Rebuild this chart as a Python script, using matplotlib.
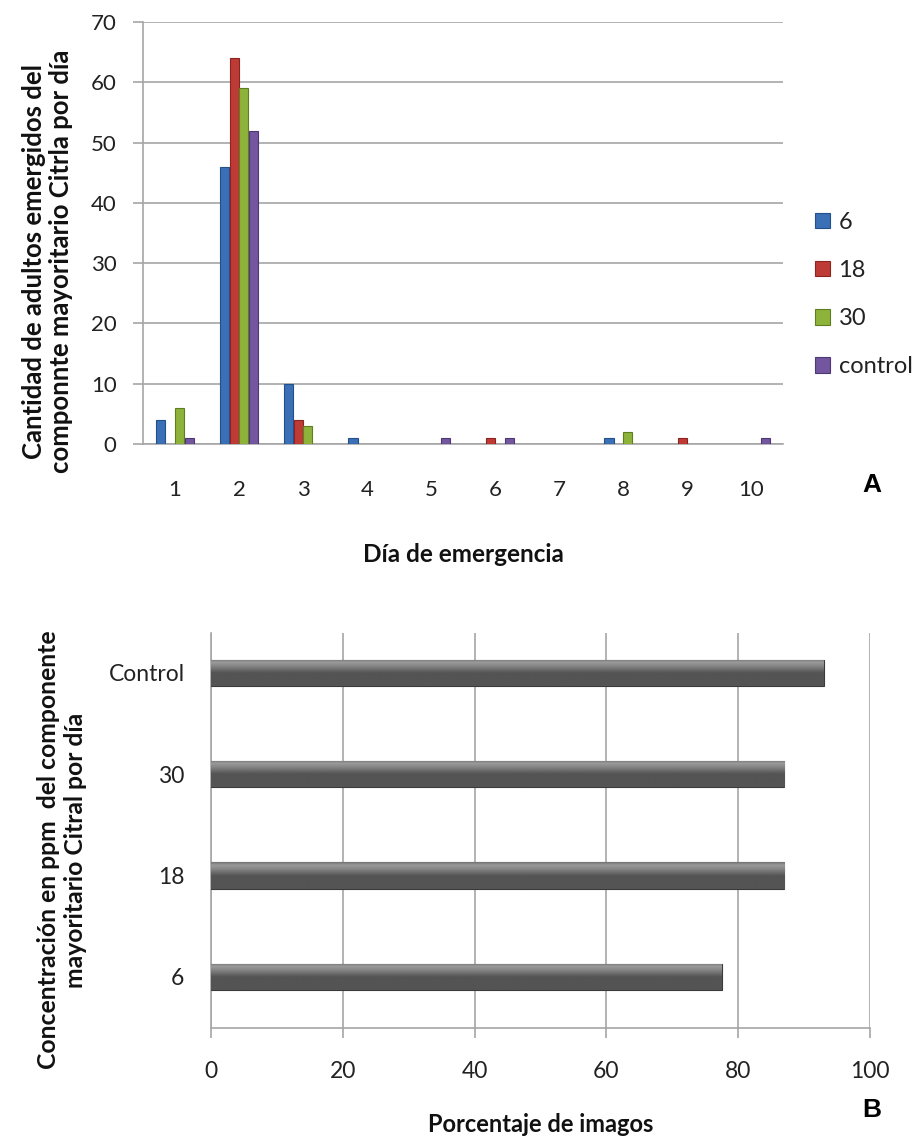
import matplotlib
matplotlib.use("Agg")
import matplotlib.pyplot as plt
import numpy as np

# ---- Data: chart A ----
days = [1, 2, 3, 4, 5, 6, 7, 8, 9, 10]
series_names = ["6", "18", "30", "control"]
vals_6 = [4, 46, 10, 1, 0, 0, 0, 1, 0, 0]
vals_18 = [0, 64, 4, 0, 0, 1, 0, 0, 1, 0]
vals_30 = [6, 59, 3, 0, 0, 0, 0, 2, 0, 0]
vals_control = [1, 52, 0, 0, 1, 1, 0, 0, 0, 1]
series_colors = ["#3B6FB6", "#BE3A35", "#8DB33A", "#7455A0"]
edge_colors = ["#24508A", "#8A2420", "#5F7D22", "#4F3973"]

# ---- Data: chart B ----
conc_labels = ["6", "18", "30", "Control"]
pct_imagos = [77.5, 87, 87, 93]

plt.rcParams['font.family'] = ['Lato', 'DejaVu Sans']

fig = plt.figure(figsize=(9.17, 11.37), dpi=100)

# ---------- Chart A ----------
axA = fig.add_axes([0.156, 0.6095, 0.698, 0.3711])
x = np.arange(len(days))
w = 0.145
step = 0.148
all_series = [vals_6, vals_18, vals_30, vals_control]
for i, (name, vals) in enumerate(zip(series_names, all_series)):
    vals = np.array(vals, dtype=float)
    mask = vals > 0
    off = (i - 1.5) * step
    axA.bar(x[mask] + off, vals[mask], width=w, color=series_colors[i],
            edgecolor=edge_colors[i], linewidth=0.8, label=name, zorder=3)
axA.set_xlim(-0.5, len(days) - 0.5)
axA.set_ylim(0, 70)
axA.set_yticks(range(0, 71, 10))
axA.set_xticks(x)
axA.set_xticklabels([str(d) for d in days])
axA.yaxis.grid(True, color="#A6A6A6", linewidth=1.2, zorder=0)
axA.set_axisbelow(True)
for s in ["top", "right"]:
    axA.spines[s].set_visible(False)
for s in ["left", "bottom"]:
    axA.spines[s].set_color("#A6A6A6")
    axA.spines[s].set_linewidth(1.2)
axA.tick_params(axis="y", length=7, color="#A6A6A6", width=1.2, labelsize=16, pad=12,
                labelcolor="#222222")
axA.tick_params(axis="x", length=0, labelsize=16, pad=26, labelcolor="#222222")

fig.legend(loc="center left", bbox_to_anchor=(0.866, 0.741), frameon=False,
           fontsize=17, labelspacing=1.15, handlelength=0.64, handleheight=0.64,
           handletextpad=0.34, labelcolor="#222222")

fig.text(0.505, 0.5057, "Día de emergencia", ha="center", va="baseline",
         fontsize=17.5, fontweight="bold", color="#111111")
fig.text(0.052, 0.770, "Cantidad de adultos emergidos del\ncomponnte mayoritario Citrla por día",
         ha="center", va="center", rotation=90, fontsize=18.5, fontweight="bold",
         linespacing=1.18, color="#111111")
fig.text(0.951, 0.5734, "A", ha="center", va="center", fontsize=19,
         fontweight="bold", family="Liberation Sans")

# ---------- Chart B ----------
axB = fig.add_axes([0.230, 0.0959, 0.7187, 0.3474])
y = np.arange(len(conc_labels))
bh = 0.26
bars = axB.barh(y, pct_imagos, height=bh, color="#4F4F4F", edgecolor="#3A3A3A",
                linewidth=0.8, zorder=3)
# vertical gradient for bevel look (light top, dark body)
grad = np.concatenate([np.linspace(0.33, 0.33, 40), np.linspace(0.33, 0.55, 25),
                       np.linspace(0.55, 0.60, 8), np.linspace(0.60, 0.45, 10)])
grad = grad.reshape(-1, 1)
for yi, val, patch in zip(y, pct_imagos, bars):
    im = axB.imshow(grad, cmap="gray", vmin=0, vmax=1, aspect="auto",
                    extent=[0, val, yi - bh / 2, yi + bh / 2], origin="lower",
                    zorder=3.5, interpolation="bilinear")
    im.set_clip_path(patch)
axB.set_xlim(0, 100)
axB.set_ylim(-0.503, 3.395)
axB.set_xticks(range(0, 101, 20))
axB.set_yticks(y)
axB.set_yticklabels(conc_labels)
axB.xaxis.grid(True, color="#A6A6A6", linewidth=1.2, zorder=0)
axB.set_axisbelow(True)
for s in ["top", "right"]:
    axB.spines[s].set_visible(False)
for s in ["left", "bottom"]:
    axB.spines[s].set_color("#A6A6A6")
    axB.spines[s].set_linewidth(1.2)
axB.tick_params(axis="x", length=7, color="#A6A6A6", width=1.2, labelsize=16.5, pad=17,
                labelcolor="#222222")
axB.tick_params(axis="y", length=0, labelsize=16.5, pad=19, labelcolor="#222222")

fig.text(0.59, 0.0044, "Porcentaje de imagos", ha="center", va="baseline",
         fontsize=17, fontweight="bold", color="#111111")
fig.text(0.068, 0.2524, "Concentración en ppm  del componente\nmayoritario Citral por día",
         ha="center", va="center", rotation=90, fontsize=17.8, fontweight="bold",
         linespacing=1.22, color="#111111")
fig.text(0.951, 0.0237, "B", ha="center", va="center", fontsize=19,
         fontweight="bold", family="Liberation Sans")

fig.savefig("out.png", dpi=100, facecolor="white")
